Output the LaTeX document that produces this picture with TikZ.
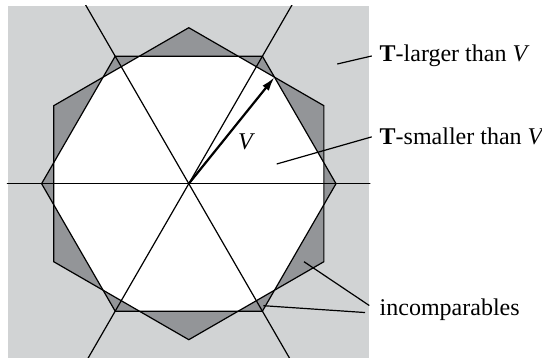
\documentclass[tikz,border=0pt]{standalone}
\usepackage{fontspec}
\setmainfont{Liberation Serif}
\usepackage{tikz}
\usetikzlibrary{arrows.meta}

\definecolor{lightgr}{RGB}{209,211,212}
\definecolor{darkgr}{RGB}{147,149,152}

% the two hexagons
\newcommand{\hexA}{(0:147.2) -- (60:147.2) -- (120:147.2) -- (180:147.2) -- (240:147.2) -- (300:147.2) -- cycle}
\newcommand{\hexB}{(30:156) -- (90:156) -- (150:156) -- (210:156) -- (270:156) -- (330:156) -- cycle}

\begin{document}
\begin{tikzpicture}[
  x=0.5pt, y=0.5pt,
  every node/.style={font=\fontsize{12}{14}\selectfont},
  edge/.style={line width=0.6pt, line join=miter},
  leader/.style={line width=0.6pt},
  vec/.style={-{Latex[length=7pt, width=4pt]}, line width=1.1pt},
  lbl/.style={anchor=base west, inner xsep=3.75pt, inner ysep=0pt},
]
  \useasboundingbox (-188.8,-174.3) rectangle (353.2,183.7);
  \coordinate (O) at (0,0);

  % Background
  \fill[lightgr] (-180.5,-174.3) rectangle (180.5,177.7);

  % Hexagons: dark where only one covers, white where both do
  \fill[darkgr] \hexA;
  \fill[darkgr] \hexB;
  \begin{scope}
    \clip \hexA;
    \fill[white] \hexB;
  \end{scope}
  \draw[edge] \hexA;
  \draw[edge] \hexB;

  % Lines through the centre
  \begin{scope}
    \clip (-182,-174.3) rectangle (181.5,177.7);
    \foreach \a in {0,60,120} {
      \draw[edge] (O) -- (\a:260);
      \draw[edge] (O) -- (\a+180:260);
    }
  \end{scope}

  % Vector V
  \coordinate (V) at (85.7,106.5);
  \draw[vec] (O) -- (V);
  \node (vlab) at (57.9,42) {\textit{V}};

  % Labels
  \node[lbl] (lg) at (183,122) {\textbf{T}-larger than \textit{V}};
  \node[lbl] (sm) at (183,38.7) {\textbf{T}-smaller than \textit{V}};
  \node[lbl] (inc) at (183,-132.3) {incomparables};

  \coordinate (plg) at (148.5,119.7);
  \coordinate (psm) at (87.9,19.7);
  \coordinate (pin1) at (115.2,-78);
  \coordinate (pin2) at (74.5,-122);
  \draw[leader] (plg) -- (lg.west);
  \draw[leader] (psm) -- (sm.west);
  \draw[leader] (pin1) -- ([shift={(-2.5,4.7)}]inc.west);
  \draw[leader] (pin2) -- ([shift={(-6.8,-2.3)}]inc.west);
\end{tikzpicture}
\end{document}
